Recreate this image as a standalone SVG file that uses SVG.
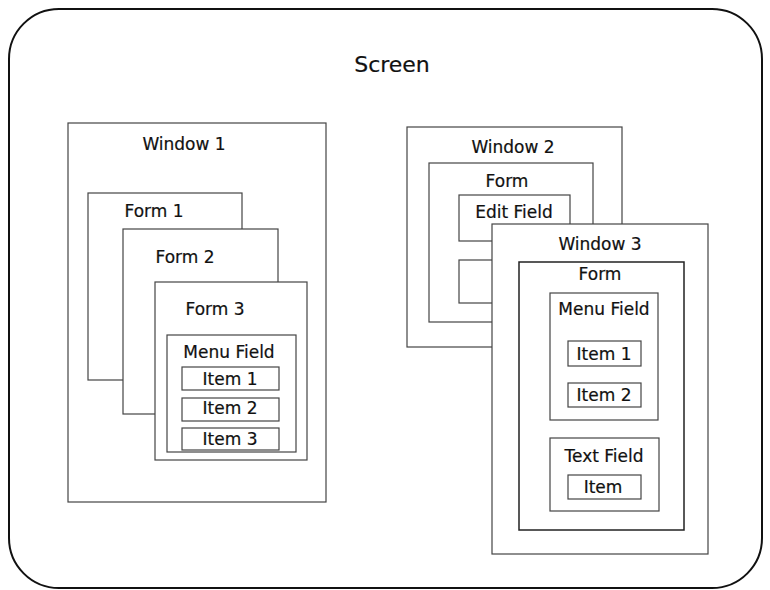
<svg xmlns="http://www.w3.org/2000/svg" width="770" height="590" viewBox="0 0 770 590">
<style>
.box{fill:#fff;stroke:#444;stroke-width:1.2}
.dark{stroke:#222;stroke-width:1.5}
.scr{fill:#fff;stroke:#111;stroke-width:2}
text{font-family:"DejaVu Sans","Liberation Sans",sans-serif;font-size:17px;fill:#111;text-anchor:middle;stroke:#111;stroke-width:0.2}
.big{font-size:22px}
</style>
<rect width="770" height="590" fill="#fff"/>
<g id="screen">
<rect class="scr" x="9" y="9" width="753" height="579" rx="50" ry="50"/>
<text class="big" x="392" y="72">Screen</text>
</g>
<g id="window1">
<rect class="box" x="68" y="123" width="258" height="379"/>
<text x="184" y="150">Window 1</text>
</g>
<g id="form1">
<rect class="box" x="88" y="193" width="154" height="187"/>
<text x="154" y="217">Form 1</text>
</g>
<g id="form2">
<rect class="box" x="123" y="229" width="155" height="185"/>
<text x="185" y="263">Form 2</text>
</g>
<g id="form3">
<rect class="box" x="155" y="282" width="152" height="178"/>
<text x="215" y="315">Form 3</text>
</g>
<g id="menufield1">
<rect class="box" x="167" y="335" width="129" height="117"/>
<text x="229" y="358">Menu Field</text>
</g>
<g id="item1a">
<rect class="box" x="182" y="367" width="97" height="23"/>
<text x="230" y="385">Item 1</text>
</g>
<g id="item2a">
<rect class="box" x="182" y="398" width="97" height="23"/>
<text x="230" y="414">Item 2</text>
</g>
<g id="item3a">
<rect class="box" x="182" y="428" width="97" height="22"/>
<text x="230" y="445">Item 3</text>
</g>
<g id="window2">
<rect class="box" x="407" y="127" width="215" height="220"/>
<text x="513" y="153">Window 2</text>
</g>
<g id="form-w2">
<rect class="box" x="429" y="163" width="164" height="159"/>
<text x="507" y="187">Form</text>
</g>
<g id="editfield">
<rect class="box" x="459" y="195" width="111" height="46"/>
<text x="514" y="218">Edit Field</text>
</g>
<g id="field-hidden">
<rect class="box" x="459" y="260" width="101" height="43"/>
</g>
<g id="window3">
<rect class="box" x="492" y="224" width="216" height="330"/>
<text x="600" y="250">Window 3</text>
</g>
<g id="form-w3">
<rect class="box dark" x="519" y="262" width="165" height="268"/>
<text x="600" y="280">Form</text>
</g>
<g id="menufield2">
<rect class="box" x="550" y="293" width="108" height="127"/>
<text x="604" y="315">Menu Field</text>
</g>
<g id="item1b">
<rect class="box" x="568" y="341" width="73" height="25"/>
<text x="604" y="360">Item 1</text>
</g>
<g id="item2b">
<rect class="box" x="568" y="383" width="73" height="24"/>
<text x="604" y="401">Item 2</text>
</g>
<g id="textfield">
<rect class="box" x="550" y="438" width="109" height="73"/>
<text x="604" y="462">Text Field</text>
</g>
<g id="item-tf">
<rect class="box" x="568" y="475" width="73" height="24"/>
<text x="603" y="493">Item</text>
</g>
</svg>
